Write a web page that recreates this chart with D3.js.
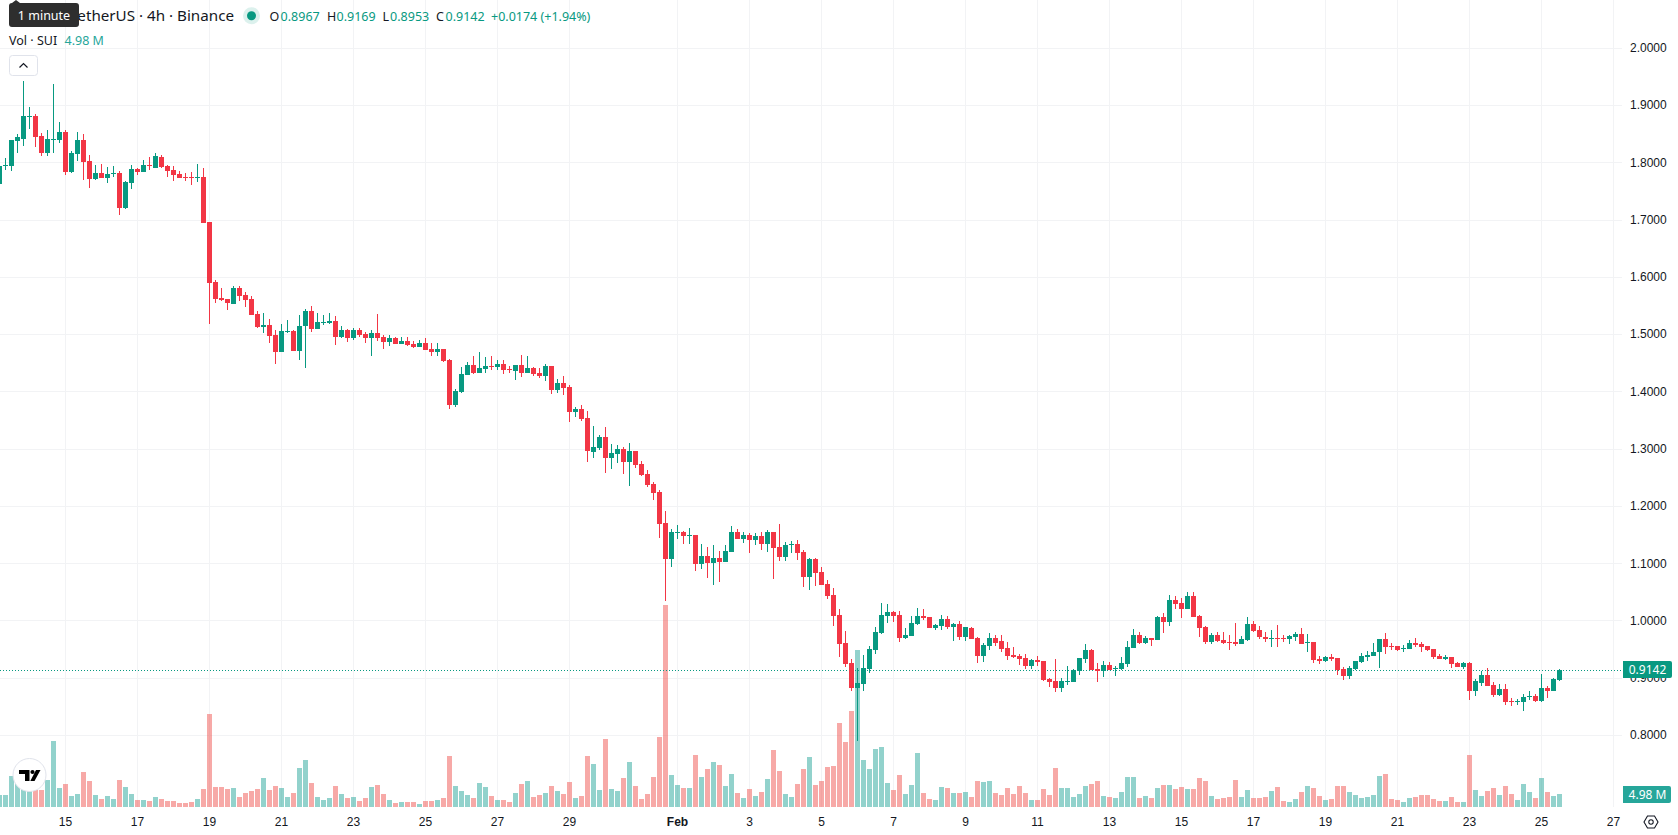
<!DOCTYPE html>
<html lang="en">
<head>
<meta charset="utf-8">
<title>SUI / TetherUS 4h</title>
<script src="https://cdn.jsdelivr.net/npm/d3@7/dist/d3.min.js"></script>
<style>
  html, body { margin: 0; padding: 0; background: #fff; overflow: hidden; }
  svg { display: block; font-family: "Noto Sans", sans-serif; }
</style>
</head>
<body>
<svg id="chart" width="1678" height="835"></svg>
<script>
// 4h candles, oldest first.
const opens = [
  1.7630,1.7944,1.7944,1.8380,1.8415,1.8799,1.8817,1.8468,1.8171,1.8398,
  1.8398,1.8537,1.7839,1.8153,1.8398,1.8031,1.7717,1.7822,1.7734,1.7804,
  1.7822,1.7211,1.7647,1.7891,1.7839,1.7961,1.7909,1.8101,1.7944,1.7874,
  1.7804,1.7752,1.7752,1.7734,1.7752,1.6966,1.5918,1.5639,1.5621,1.5534,
  1.5813,1.5691,1.5621,1.5359,1.5132,1.5167,1.4993,1.4696,1.5045,1.5063,
  1.4713,1.5150,1.5412,1.5097,1.5202,1.5202,1.5237,1.4958,1.5080,1.4940,
  1.5080,1.5010,1.4940,1.5028,1.4958,1.4871,1.4940,1.4836,1.4888,1.4836,
  1.4783,1.4853,1.4748,1.4696,1.4748,1.4556,1.3770,1.3997,1.4294,1.4469,
  1.4329,1.4399,1.4451,1.4434,1.4486,1.4399,1.4364,1.4469,1.4329,1.4416,
  1.4329,1.4277,1.4452,1.4033,1.4155,1.4085,1.3648,1.3701,1.3544,1.2950,
  1.3020,1.3212,1.2845,1.2915,1.3002,1.2775,1.2968,1.2741,1.2566,1.2391,
  1.2252,1.1710,1.1082,1.1536,1.1553,1.1483,1.1501,1.0995,1.1134,1.1012,
  1.1099,1.1029,1.1204,1.1553,1.1431,1.1501,1.1414,1.1483,1.1344,1.1553,
  1.1291,1.1117,1.1326,1.1344,1.1204,1.0767,1.1082,1.0855,1.0645,1.0453,
  1.0104,0.9615,0.9266,0.8829,0.8899,0.9161,0.9493,0.9790,1.0086,1.0156,
  1.0104,0.9702,0.9737,0.9947,1.0086,1.0069,0.9877,0.9912,1.0034,0.9894,
  0.9947,0.9720,0.9877,0.9702,0.9388,0.9563,0.9702,0.9650,0.9528,0.9406,
  0.9388,0.9353,0.9213,0.9318,0.9301,0.8986,0.8951,0.8829,0.8934,0.8934,
  0.9126,0.9336,0.9493,0.9161,0.9126,0.9231,0.9161,0.9161,0.9248,0.9528,
  0.9755,0.9615,0.9702,0.9667,1.0069,0.9982,1.0366,1.0313,1.0209,1.0436,
  1.0086,0.9894,0.9632,0.9755,0.9667,0.9632,0.9632,0.9598,0.9667,0.9947,
  0.9842,0.9720,0.9685,0.9702,0.9702,0.9685,0.9720,0.9772,0.9615,0.9632,
  0.9336,0.9301,0.9371,0.9353,0.9161,0.9039,0.9161,0.9283,0.9371,0.9388,
  0.9458,0.9685,0.9563,0.9563,0.9510,0.9510,0.9615,0.9598,0.9563,0.9510,
  0.9388,0.9336,0.9371,0.9266,0.9196,0.9266,0.8777,0.8917,0.9056,0.8882,
  0.8707,0.8812,0.8602,0.8585,0.8585,0.8672,0.8690,0.8602,0.8829,0.8777,
  0.8967
];
const highs = [
  1.7944,1.8084,1.8398,1.8503,1.9428,1.8974,1.8852,1.8520,1.8572,1.9376,
  1.8712,1.8572,1.8206,1.8537,1.8503,1.8136,1.7961,1.7979,1.7926,1.7944,
  1.7857,1.7682,1.7961,1.7909,1.8049,1.8101,1.8171,1.8136,1.7961,1.7944,
  1.7857,1.7822,1.7839,1.7979,1.7909,1.6966,1.5953,1.5813,1.5621,1.5848,
  1.5848,1.5743,1.5674,1.5412,1.5377,1.5272,1.5080,1.5185,1.5255,1.5080,
  1.5342,1.5447,1.5499,1.5377,1.5342,1.5377,1.5324,1.5150,1.5097,1.5115,
  1.5115,1.5045,1.5080,1.5359,1.4993,1.4993,1.4958,1.4958,1.4958,1.4888,
  1.4905,1.4940,1.4853,1.4853,1.4748,1.4574,1.4050,1.4434,1.4521,1.4626,
  1.4696,1.4609,1.4626,1.4556,1.4556,1.4451,1.4469,1.4644,1.4626,1.4434,
  1.4417,1.4487,1.4452,1.4225,1.4277,1.4120,1.3736,1.3771,1.3666,1.3404,
  1.3247,1.3387,1.3090,1.3072,1.3037,1.3107,1.2968,1.2793,1.2636,1.2426,
  1.2287,1.1920,1.1606,1.1675,1.1571,1.1623,1.1501,1.1344,1.1291,1.1326,
  1.1222,1.1326,1.1658,1.1606,1.1553,1.1536,1.1536,1.1553,1.1588,1.1553,
  1.1693,1.1379,1.1396,1.1414,1.1239,1.1099,1.1099,1.0942,1.0715,1.0575,
  1.0209,0.9825,0.9336,0.9179,0.9406,0.9563,0.9894,1.0313,1.0296,1.0174,
  1.0174,0.9877,1.0086,1.0226,1.0209,1.0069,0.9947,1.0104,1.0086,0.9964,
  0.9999,0.9894,0.9894,0.9720,0.9615,0.9790,0.9755,0.9755,0.9632,0.9545,
  0.9423,0.9423,0.9336,0.9388,0.9301,0.9004,0.9336,0.9004,0.9213,0.9161,
  0.9353,0.9598,0.9510,0.9266,0.9301,0.9283,0.9213,0.9371,0.9650,0.9859,
  0.9807,0.9737,0.9702,1.0086,1.0139,1.0453,1.0436,1.0401,1.0505,1.0505,
  1.0104,0.9912,0.9790,0.9807,0.9807,0.9755,0.9964,0.9737,1.0069,0.9999,
  0.9912,0.9807,0.9842,0.9929,0.9755,0.9755,0.9807,0.9877,0.9772,0.9632,
  0.9388,0.9388,0.9423,0.9353,0.9196,0.9213,0.9301,0.9440,0.9475,0.9615,
  0.9685,0.9790,0.9615,0.9563,0.9580,0.9667,0.9702,0.9632,0.9563,0.9510,
  0.9423,0.9406,0.9371,0.9283,0.9283,0.9283,0.8986,0.9126,0.9179,0.8934,
  0.8899,0.8899,0.8655,0.8637,0.8725,0.8777,0.8725,0.9074,0.8864,0.9004,
  0.9169
];
const lows = [
  1.7630,1.7874,1.7857,1.8171,1.8293,1.8590,1.8276,1.8118,1.8118,1.8171,
  1.8345,1.7787,1.7822,1.8031,1.7699,1.7560,1.7699,1.7734,1.7647,1.7752,
  1.7088,1.7193,1.7542,1.7787,1.7839,1.7874,1.7909,1.7909,1.7752,1.7682,
  1.7734,1.7682,1.7612,1.7664,1.6949,1.5185,1.5551,1.5586,1.5429,1.5534,
  1.5586,1.5482,1.5342,1.5115,1.5028,1.4853,1.4486,1.4696,1.5028,1.4713,
  1.4556,1.4416,1.5045,1.5097,1.5167,1.5185,1.4818,1.4940,1.4871,1.4905,
  1.4958,1.4853,1.4626,1.4888,1.4748,1.4801,1.4836,1.4836,1.4801,1.4766,
  1.4783,1.4731,1.4626,1.4626,1.4521,1.3701,1.3736,1.3980,1.4294,1.4312,
  1.4329,1.4329,1.4382,1.4382,1.4312,1.4329,1.4207,1.4259,1.4329,1.4277,
  1.4242,1.4190,1.3963,1.3980,1.3945,1.3474,1.3561,1.3491,1.2775,1.2845,
  1.2985,1.2583,1.2653,1.2758,1.2566,1.2356,1.2671,1.2531,1.2339,1.2112,
  1.1449,1.0349,1.0942,1.1431,1.1344,1.1344,1.0872,1.0907,1.0750,1.0628,
  1.0680,1.1029,1.1204,1.1431,1.1361,1.1187,1.1326,1.1239,1.1204,1.0733,
  1.1047,1.1047,1.1187,1.1064,1.0593,1.0541,1.0610,1.0628,1.0383,0.9912,
  0.9371,0.9196,0.8777,0.7904,0.8777,0.9091,0.9423,0.9772,0.9964,0.9982,
  0.9632,0.9685,0.9737,0.9929,1.0017,0.9877,0.9842,0.9842,0.9859,0.9650,
  0.9667,0.9650,0.9685,0.9266,0.9283,0.9493,0.9563,0.9458,0.9318,0.9353,
  0.9231,0.9161,0.9161,0.9213,0.8951,0.8847,0.8759,0.8759,0.8882,0.8934,
  0.9056,0.9266,0.9144,0.8934,0.9021,0.9144,0.9039,0.9144,0.9196,0.9528,
  0.9598,0.9598,0.9563,0.9667,0.9790,0.9912,1.0209,1.0051,1.0209,1.0069,
  0.9720,0.9598,0.9598,0.9632,0.9598,0.9493,0.9563,0.9598,0.9650,0.9807,
  0.9685,0.9632,0.9545,0.9545,0.9632,0.9598,0.9650,0.9598,0.9458,0.9266,
  0.9248,0.9283,0.9301,0.9056,0.8969,0.8986,0.9144,0.9266,0.9301,0.9388,
  0.9179,0.9423,0.9493,0.9475,0.9458,0.9510,0.9545,0.9458,0.9475,0.9336,
  0.9336,0.9318,0.9179,0.9196,0.9161,0.8620,0.8690,0.8864,0.8864,0.8672,
  0.8690,0.8532,0.8515,0.8532,0.8428,0.8620,0.8585,0.8585,0.8655,0.8777,
  0.8953
];
const closes = [
  1.7944,1.7961,1.8398,1.8450,1.8817,1.8817,1.8450,1.8171,1.8415,1.8415,
  1.8537,1.7839,1.8171,1.8398,1.8014,1.7717,1.7822,1.7734,1.7804,1.7822,
  1.7211,1.7664,1.7891,1.7839,1.7961,1.7944,1.8118,1.7926,1.7857,1.7787,
  1.7734,1.7734,1.7734,1.7752,1.6949,1.5901,1.5621,1.5604,1.5551,1.5813,
  1.5674,1.5604,1.5342,1.5132,1.5167,1.4975,1.4696,1.5063,1.5063,1.4713,
  1.5150,1.5412,1.5097,1.5220,1.5220,1.5237,1.4958,1.5080,1.4940,1.5080,
  1.4993,1.4940,1.5028,1.4940,1.4871,1.4940,1.4836,1.4888,1.4818,1.4783,
  1.4853,1.4731,1.4696,1.4748,1.4539,1.3770,1.4015,1.4312,1.4469,1.4329,
  1.4416,1.4451,1.4434,1.4486,1.4382,1.4382,1.4469,1.4329,1.4416,1.4312,
  1.4277,1.4452,1.4033,1.4155,1.4068,1.3648,1.3701,1.3526,1.2968,1.3037,
  1.3212,1.2845,1.2933,1.3002,1.2775,1.2968,1.2723,1.2549,1.2374,1.2234,
  1.1693,1.1082,1.1553,1.1553,1.1483,1.1501,1.0995,1.1134,1.1012,1.1099,
  1.1029,1.1222,1.1553,1.1431,1.1501,1.1414,1.1483,1.1344,1.1553,1.1274,
  1.1117,1.1326,1.1344,1.1187,1.0767,1.1082,1.0837,1.0628,1.0436,1.0086,
  0.9598,0.9248,0.8829,0.8917,0.9179,0.9510,0.9807,1.0104,1.0156,1.0086,
  0.9702,0.9755,0.9964,1.0086,1.0051,0.9877,0.9929,1.0034,0.9894,0.9947,
  0.9720,0.9894,0.9685,0.9388,0.9580,0.9702,0.9615,0.9510,0.9388,0.9371,
  0.9336,0.9213,0.9318,0.9283,0.8969,0.8934,0.8829,0.8951,0.8951,0.9144,
  0.9353,0.9493,0.9144,0.9126,0.9231,0.9144,0.9179,0.9266,0.9545,0.9755,
  0.9615,0.9702,0.9667,1.0069,0.9982,1.0366,1.0296,1.0209,1.0436,1.0069,
  0.9877,0.9632,0.9755,0.9650,0.9615,0.9615,0.9598,0.9685,0.9947,0.9825,
  0.9720,0.9685,0.9702,0.9685,0.9685,0.9737,0.9772,0.9598,0.9632,0.9318,
  0.9301,0.9371,0.9336,0.9144,0.9039,0.9179,0.9301,0.9388,0.9406,0.9458,
  0.9685,0.9545,0.9545,0.9493,0.9528,0.9615,0.9580,0.9545,0.9493,0.9371,
  0.9336,0.9371,0.9248,0.9196,0.9266,0.8777,0.8951,0.9056,0.8864,0.8707,
  0.8812,0.8585,0.8585,0.8602,0.8672,0.8690,0.8602,0.8829,0.8777,0.8986,
  0.9142
];
// Traded volume per candle, in millions of SUI.
const volumes = [
  4.60,4.60,11.87,10.34,8.81,6.51,6.51,6.51,10.34,25.28,
  7.28,8.81,4.21,4.98,13.41,9.96,4.60,3.06,4.21,3.06,
  10.34,7.66,4.98,2.68,2.68,2.30,3.83,3.06,2.30,2.30,
  1.53,1.53,1.92,3.06,6.89,35.62,7.66,7.66,6.89,7.28,
  3.83,5.36,6.13,6.89,11.11,6.51,8.04,7.28,3.83,5.36,
  14.94,18.00,9.19,3.83,2.68,3.45,8.04,4.98,3.45,3.83,
  2.30,3.45,7.66,8.43,4.98,2.68,1.53,1.92,1.92,1.92,
  1.15,2.30,2.30,2.68,3.45,19.53,8.04,6.13,4.60,3.45,
  9.19,7.66,4.21,2.68,2.68,1.92,5.36,8.81,9.96,3.83,
  4.60,5.36,8.04,6.13,4.98,9.58,3.45,4.21,19.53,16.47,
  6.51,26.04,6.89,6.13,11.11,17.24,8.04,3.06,4.98,11.49,
  26.81,77.37,12.26,8.43,7.28,7.28,19.92,11.49,14.55,17.24,
  16.09,8.04,12.64,5.36,3.45,6.89,4.21,5.75,10.72,21.83,
  13.79,4.98,3.83,8.81,14.55,19.15,8.43,9.96,15.32,15.70,
  32.17,24.90,36.77,60.13,18.00,14.55,22.21,22.98,9.19,6.51,
  12.26,4.98,8.43,20.68,5.36,3.06,2.68,7.66,7.28,5.36,
  5.36,5.75,3.83,9.96,9.58,9.96,5.36,4.60,7.28,4.98,
  8.04,5.36,2.68,2.68,6.89,4.60,14.94,7.28,7.28,3.83,
  4.98,8.04,8.81,9.96,4.21,3.83,3.45,5.75,11.49,11.49,
  3.45,4.21,3.45,7.28,8.43,8.43,6.89,7.66,6.89,6.89,
  11.11,9.96,4.21,3.06,3.45,3.83,10.34,3.83,6.51,3.45,
  3.45,3.83,6.13,7.66,2.30,1.92,3.06,5.75,8.04,7.28,
  4.21,2.68,3.06,8.04,8.04,5.75,4.60,3.45,3.83,4.60,
  11.87,12.64,3.06,2.68,1.92,3.45,3.83,4.60,4.60,3.06,
  2.30,2.30,3.83,1.92,1.92,19.92,6.51,4.21,6.13,7.28,
  4.60,8.04,4.98,2.68,8.81,5.75,3.45,11.11,5.75,4.21,
  4.98
];
const firstCandle = "2026-01-13T04:00:00Z";
const candleHours = 4;

const priceTicks = [2.0, 1.9, 1.8, 1.7, 1.6, 1.5, 1.4, 1.3, 1.2, 1.1, 1.0, 0.9, 0.8];
const dateTicks = [
  "2026-01-15","2026-01-17","2026-01-19","2026-01-21","2026-01-23","2026-01-25","2026-01-27","2026-01-29",
  "2026-02-01","2026-02-03","2026-02-05","2026-02-07","2026-02-09","2026-02-11","2026-02-13","2026-02-15",
  "2026-02-17","2026-02-19","2026-02-21","2026-02-23","2026-02-25","2026-02-27"
];
const legendSymbol = "TetherUS · 4h · Binance";
const legendValues = [["O", "0.8967", 269.6], ["H", "0.9169", 327], ["L", "0.8953", 382.6], ["C", "0.9142", 436]];
const legendChange = "+0.0174 (+1.94%)";
const lastVolumeLabel = "4.98 M";

const UP = "#089981", DOWN = "#F23645";
const VOL_UP = "rgba(38,166,154,0.5)", VOL_DOWN = "rgba(239,83,80,0.5)";
const GRID = "#f2f3f5", INK = "#131722";
const PLOT_RIGHT = 1622, VOL_BASE = 807;

const candleTime = i => d3.utcHour.offset(new Date(firstCandle), i * candleHours);
const candles = opens.map((o, i) => ({
  t: candleTime(i), o, h: highs[i], l: lows[i], c: closes[i], v: volumes[i], up: closes[i] >= o
}));

const x = d3.scaleUtc()
  .domain([candleTime(0), candleTime(opens.length - 1)])
  .range([-0.5, 6 * (opens.length - 1) - 0.5]);
const y = d3.scaleLinear().domain([1.9, 0.8]).range([105.5, 735.5]);
const yVol = d3.scaleLinear().domain([0, 100]).range([VOL_BASE, VOL_BASE - 261.1]);

const svg = d3.select("#chart");
const row = p => Math.floor(y(p)) + 0.5;

// Gridlines
const grid = svg.append("g").attr("stroke", GRID).attr("stroke-width", 1).attr("shape-rendering", "crispEdges");
grid.selectAll("line.v").data(dateTicks).join("line").attr("class", "v")
  .attr("x1", d => x(new Date(d))).attr("x2", d => x(new Date(d)))
  .attr("y1", 0).attr("y2", VOL_BASE);
grid.selectAll("line.h").data(priceTicks).join("line").attr("class", "h")
  .attr("x1", 0).attr("x2", PLOT_RIGHT).attr("y1", row).attr("y2", row);

// Volume histogram
svg.append("g").attr("shape-rendering", "crispEdges")
  .selectAll("rect").data(candles).join("rect")
  .attr("x", d => x(d.t) - 2.5).attr("width", 5)
  .attr("y", d => Math.round(yVol(d.v))).attr("height", d => VOL_BASE - Math.round(yVol(d.v)))
  .attr("fill", d => d.up ? VOL_UP : VOL_DOWN);

// Last price line
const last = candles[candles.length - 1];
svg.append("line").attr("x1", 0).attr("x2", PLOT_RIGHT)
  .attr("y1", row(last.c)).attr("y2", row(last.c))
  .attr("stroke", UP).attr("stroke-width", 1).attr("stroke-dasharray", "1 2")
  .attr("shape-rendering", "crispEdges");

// Candles
const candleG = svg.append("g").attr("shape-rendering", "crispEdges")
  .selectAll("g").data(candles).join("g").attr("fill", d => d.up ? UP : DOWN);
candleG.append("rect")
  .attr("x", d => x(d.t) - 0.5).attr("width", 1)
  .attr("y", d => Math.round(y(d.h)))
  .attr("height", d => Math.max(1, Math.round(y(d.l)) - Math.round(y(d.h))));
candleG.append("rect")
  .attr("x", d => x(d.t) - 2.5).attr("width", 5)
  .attr("y", d => Math.round(y(Math.max(d.o, d.c))))
  .attr("height", d => Math.max(1, Math.round(y(Math.min(d.o, d.c))) - Math.round(y(Math.max(d.o, d.c)))));

// Price axis
const yAxis = svg.append("g").attr("transform", "translate(1630,0)")
  .call(d3.axisRight(y).tickValues(priceTicks).tickSize(0).tickPadding(0).tickFormat(d3.format(".4f")).offset(0));
yAxis.select(".domain").remove();
yAxis.selectAll("text").attr("fill", INK).style("font-size", "12px");

// Time axis
const xAxis = svg.append("g").attr("transform", `translate(0,${VOL_BASE})`)
  .call(d3.axisBottom(x).tickValues(dateTicks.map(d => new Date(d))).tickSize(0).tickPadding(10.5).offset(0)
    .tickFormat(d => d.getUTCDate() === 1 ? "Feb" : String(d.getUTCDate())));
xAxis.select(".domain").remove();
xAxis.selectAll("text").attr("fill", INK).style("font-size", "12px")
  .style("font-weight", d => d.getUTCDate() === 1 ? 700 : 400);

// Current price and volume tags
const tag = (top, bottom, right, fill, label) => {
  const t = svg.append("g");
  t.append("path").attr("fill", fill)
    .attr("d", `M1623,${top}H${right - 2}a2,2 0 0 1 2,2V${bottom - 2}a2,2 0 0 1 -2,2H1623Z`);
  t.append("text").attr("x", 1647.5).attr("y", (top + bottom) / 2 + 4.2).attr("text-anchor", "middle")
    .attr("fill", "#fff").attr("font-size", 12).text(label);
};
tag(661, 678, 1672, UP, d3.format(".4f")(last.c));
tag(786, 803, 1671, "#26a69a", lastVolumeLabel);

// Legend
const legend = svg.append("g").attr("font-size", 13);
legend.append("text").attr("x", 234).attr("y", 21).attr("text-anchor", "end")
  .attr("font-size", 15.2).attr("fill", INK).text(legendSymbol);
legend.append("circle").attr("cx", 251.5).attr("cy", 15.7).attr("r", 8.5).attr("fill", UP).attr("opacity", 0.14);
legend.append("circle").attr("cx", 251.5).attr("cy", 15.7).attr("r", 4.5).attr("fill", UP);
legendValues.forEach(([k, v, px]) => {
  legend.append("text").attr("x", px).attr("y", 20.5).attr("fill", INK).attr("font-size", 12.5).text(k);
  legend.append("text").attr("x", px + (k === "O" ? 11 : k === "H" ? 9.5 : k === "L" ? 7.5 : 9.5)).attr("y", 20.5)
    .attr("fill", UP).attr("font-size", 12.5).text(v);
});
legend.append("text").attr("x", 491).attr("y", 20.5).attr("fill", UP).attr("font-size", 12.5).text(legendChange);
legend.append("text").attr("x", 9).attr("y", 45).attr("fill", INK).attr("font-size", 12.5).text("Vol · SUI");
legend.append("text").attr("x", 64.5).attr("y", 45).attr("fill", "#26a69a").attr("font-size", 12.5).text(lastVolumeLabel);

// Collapse button
svg.append("rect").attr("x", 9.5).attr("y", 55.5).attr("width", 28).attr("height", 20).attr("rx", 3)
  .attr("fill", "#fff").attr("stroke", "#e0e3eb");
svg.append("path").attr("d", "M19.5,67.5L23.5,63.5L27.5,67.5").attr("fill", "none")
  .attr("stroke", INK).attr("stroke-width", 1.2);

// Tooltip over the legend
svg.append("path").attr("fill", "#2e2e2e").attr("d", "M12,3L16,0L20,3H76a3,3 0 0 1 3,3V24a3,3 0 0 1 -3,3H12a3,3 0 0 1 -3,-3V6a3,3 0 0 1 3,-3Z");
svg.append("text").attr("x", 44).attr("y", 20).attr("text-anchor", "middle").attr("fill", "#fff").attr("font-size", 12.5).text("1 minute");

// Brand badge
const badge = svg.append("g").attr("transform", "translate(29.5,775)");
badge.append("circle").attr("r", 16.5).attr("fill", "#fff").attr("stroke", "#e0e3eb").attr("stroke-width", 1);
badge.append("path").attr("fill", "#000")
  .attr("d", "M-10.5,-5H0V6H-4.5V-1H-10.5Z M6.5,-5H11L5,6H0.8Z");
badge.append("circle").attr("cx", 3).attr("cy", -3).attr("r", 2.1).attr("fill", "#000");

// Settings icon
const gear = svg.append("g").attr("transform", "translate(1651,822)").attr("fill", "none").attr("stroke", INK).attr("stroke-width", 1.1);
gear.append("path").attr("d", "M-7,0L-3.5,-6H3.5L7,0L3.5,6H-3.5Z");
gear.append("circle").attr("r", 2.2);
</script>
</body>
</html>
